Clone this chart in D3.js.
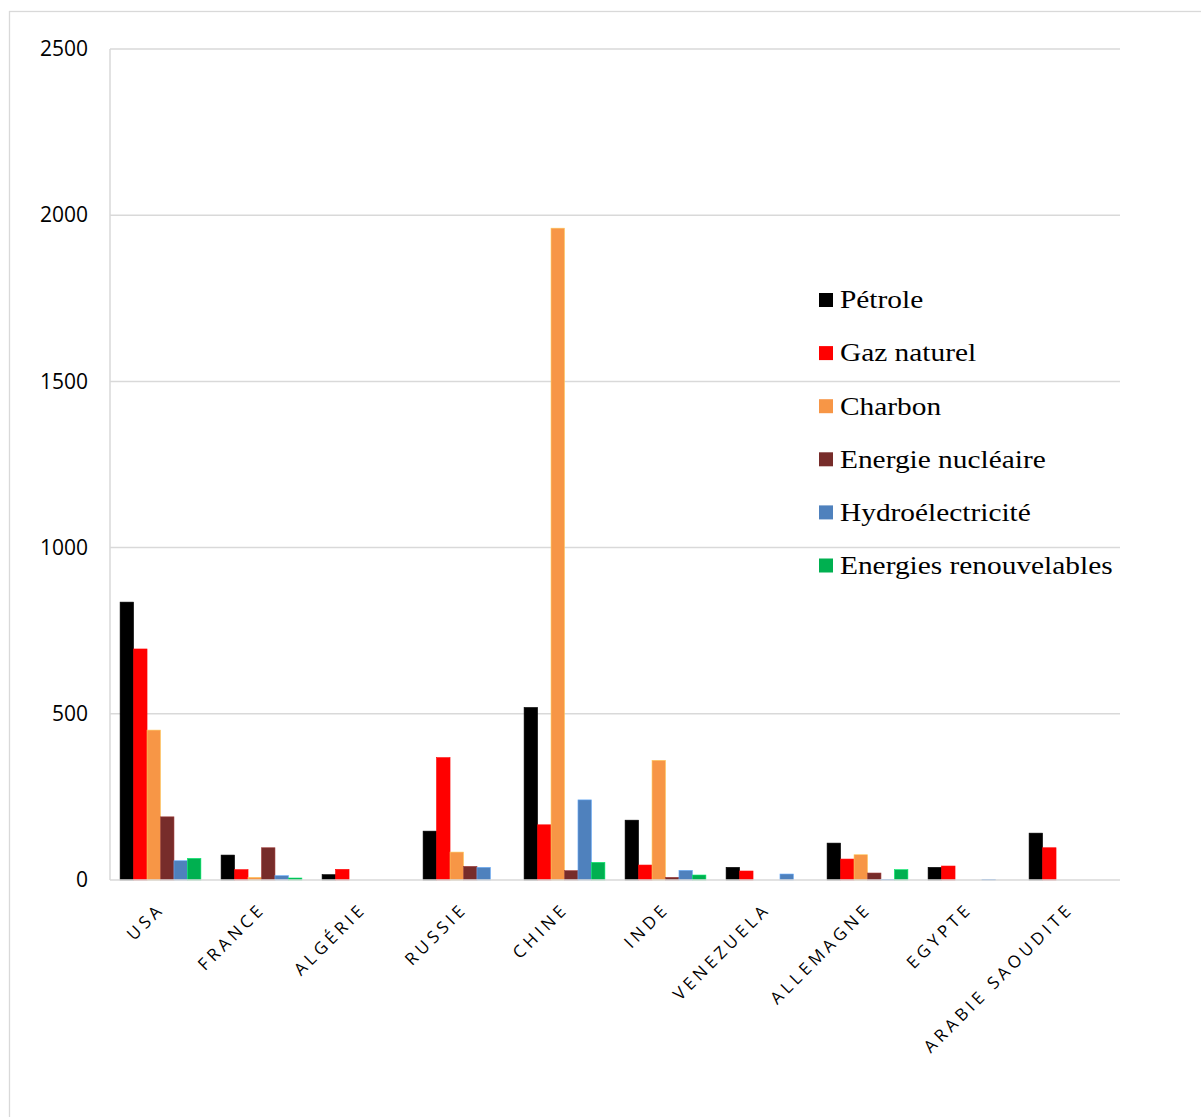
<!DOCTYPE html>
<html>
<head>
<meta charset="utf-8">
<script src="https://cdn.jsdelivr.net/npm/d3@7"></script>
<style>
  html, body { margin: 0; padding: 0; background: #fff; }
  svg { display: block; }
</style>
</head>
<body>
<svg id="chart" width="1201" height="1117"></svg>
<script>
const countries = ["USA", "FRANCE", "ALGÉRIE", "RUSSIE", "CHINE", "INDE", "VENEZUELA", "ALLEMAGNE", "EGYPTE", "ARABIE SAOUDITE"];
const seriesNames = ["Pétrole", "Gaz naturel", "Charbon", "Energie nucléaire", "Hydroélectricité", "Energies renouvelables"];
const petrole   = [836, 75, 16, 147, 519, 180, 38, 111, 38, 141];
const gaz       = [695, 31, 32, 368, 166, 45, 27, 63, 42, 97];
const charbon   = [451, 8, 0, 84, 1961, 360, 0, 76, 0, 0];
const nucleaire = [190, 97, 0, 41, 28, 8, 0, 21, 0, 0];
const hydro     = [58, 13, 0, 38, 241, 29, 18, 2, 1, 0];
const renouv    = [65, 6, 0, 0, 53, 15, 0, 31, 0, 0];
const yTicks = [0, 500, 1000, 1500, 2000, 2500];
const colors = ["#000000", "#FF0000", "#F79646", "#772C2A", "#4F81BD", "#00B050"];

const seriesValues = [petrole, gaz, charbon, nucleaire, hydro, renouv];

const svg = d3.select("#chart");

// outer frame
svg.append("rect").attr("x", 9.5).attr("y", 11.5).attr("width", 1300).attr("height", 1300)
  .attr("fill", "none").attr("stroke", "#D9D9D9").attr("stroke-width", 1.3);

const pL = 110, pR = 1120, pT = 49, pB = 880;
const x = d3.scaleBand().domain(countries).range([pL, pR]).paddingInner(0).paddingOuter(0);
const y = d3.scaleLinear().domain([0, 2500]).range([pB, pT]);
const barW = x.bandwidth() / 7.5;
const xs = d3.scaleBand().domain(seriesNames).range([barW * 0.75, barW * 6.75]).padding(0);

// gridlines
svg.append("g").selectAll("line").data(yTicks.filter(d => d > 0)).join("line")
  .attr("x1", pL).attr("x2", pR)
  .attr("y1", d => y(d)).attr("y2", d => y(d))
  .attr("stroke", "#D9D9D9").attr("stroke-width", 1.5);

// left axis line
svg.append("line").attr("x1", pL).attr("x2", pL).attr("y1", pT).attr("y2", pB)
  .attr("stroke", "#D9D9D9").attr("stroke-width", 1.5);

// y axis labels
const yAxis = d3.axisLeft(y).tickValues(yTicks).tickSize(0).tickPadding(22).tickFormat(d3.format("d"));
const gy = svg.append("g").attr("transform", `translate(${pL},0)`).call(yAxis);
gy.select(".domain").remove();
gy.selectAll("text").attr("font-family", "'Open Sans', sans-serif").attr("font-size", 21)
  .attr("fill", "#000");

// bars
const flat = [];
seriesValues.forEach((vals, si) => {
  vals.forEach((v, ci) => {
    if (v > 0) flat.push({ country: countries[ci], series: seriesNames[si], value: v, color: colors[si] });
  });
});
svg.append("g").selectAll("rect").data(flat).join("rect")
  .attr("x", d => x(d.country) + xs(d.series))
  .attr("width", xs.bandwidth())
  .attr("y", d => y(d.value))
  .attr("height", d => y(0) - y(d.value))
  .attr("fill", d => d.color)
  .attr("stroke", d => d3.color(d.color).brighter(0.8))
  .attr("stroke-width", 0.6);

// bottom axis line
svg.append("line").attr("x1", pL).attr("x2", pR).attr("y1", pB).attr("y2", pB)
  .attr("stroke", "#D9D9D9").attr("stroke-width", 1.5);

// x axis labels
const xAxis = d3.axisBottom(x).tickSize(0).tickPadding(0);
const gx = svg.append("g").attr("transform", `translate(0,${pB})`).call(xAxis);
gx.select(".domain").remove();
gx.selectAll(".tick text")
  .attr("font-family", "'Open Sans', sans-serif").attr("font-size", 17)
  .attr("letter-spacing", "4px")
  .attr("fill", "#000")
  .attr("text-anchor", "end")
  .attr("dy", null)
  .attr("y", 0)
  .attr("transform", "translate(5,30) rotate(-45)");

// legend
const legend = svg.append("g").attr("transform", "translate(819,0)");
const rowY = d3.scaleLinear().domain([0, 1]).range([300, 353.1]);
const items = legend.selectAll("g").data(seriesNames).join("g")
  .attr("transform", (d, i) => `translate(0,${rowY(i)})`);
items.append("rect").attr("x", 0).attr("y", -7).attr("width", 14).attr("height", 14)
  .attr("fill", (d, i) => colors[i]);
items.append("text").attr("transform", "translate(21,8.3) scale(1.175,1)")
  .attr("font-family", "'Liberation Serif', 'Times New Roman', serif").attr("font-size", 25)
  .attr("fill", "#000")
  .text(d => d);
</script>
</body>
</html>
